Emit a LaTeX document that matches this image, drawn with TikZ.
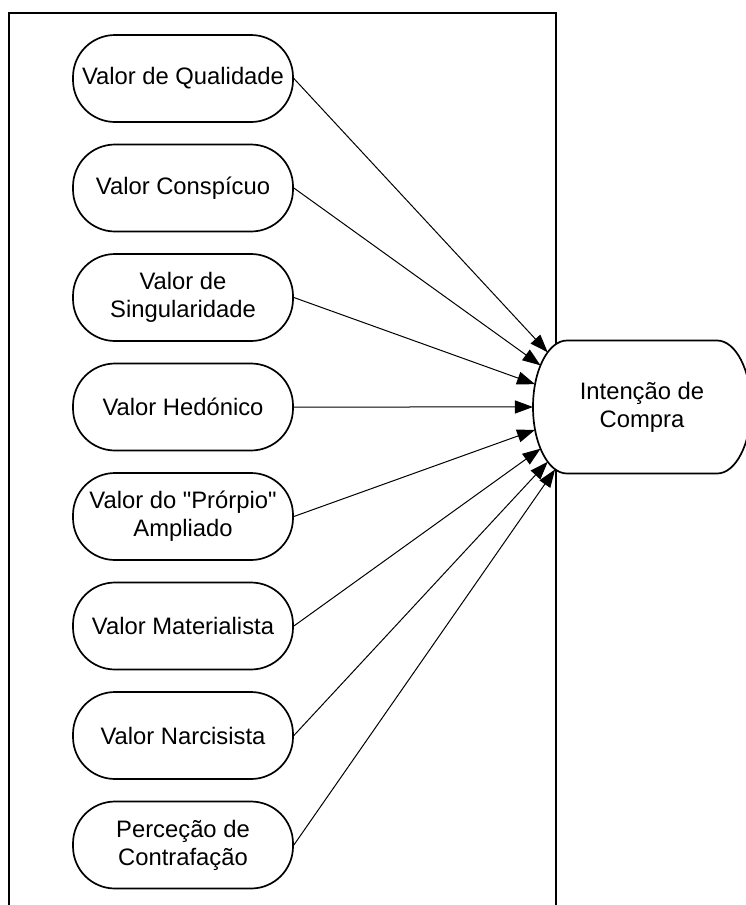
\documentclass[tikz,border=0pt]{standalone}
\usepackage{fontspec}
\setmainfont{Liberation Sans}
\usetikzlibrary{arrows.meta,intersections}

\begin{document}
\begin{tikzpicture}[x=0.5pt,y=-0.5pt,
    valor/.style={draw,line width=0.85pt,rounded corners=21pt,minimum width=110pt,minimum height=43.5pt,inner sep=0pt,align=center,font=\fontsize{11.9}{14}\selectfont},
    seta/.style={line width=0.5pt,-{Triangle[length=9pt,width=6.5pt]}}]
    \useasboundingbox (0,0) rectangle (745,905);
    % moldura
    \draw[line width=0.65pt] (9,915) -- (9,13) -- (556,13) -- (556,915);
    \foreach \txt [count=\i] in {Valor de Qualidade,Valor Conspícuo,Valor de\\Singularidade,Valor Hedónico,Valor do \textquotedbl Prórpio\textquotedbl\\Ampliado,Valor Materialista,Valor Narcisista,Perceção de\\Contrafação}
	\node[valor] (v\i) at (183,{78.5+109.5*(\i-1)}) {\txt};
    % intencao de compra
    \draw[line width=0.85pt,fill=white,name path=icb] (567,340.5) -- (717,340.5) arc[start angle=90,end angle=-90,x radius=17pt,y radius=33.25pt] -- (567,473.5) arc[start angle=270,end angle=90,x radius=17pt,y radius=33.25pt] -- cycle;
    \node[align=center,font=\fontsize{11.9}{14}\selectfont] (ic) at (642,407) {Intenção de\\Compra};
    \coordinate (alvo) at (598.5,407);
    \foreach \i in {1,...,8}{
	\path[name path=ln] (v\i.east) -- (alvo);
	\draw[seta,name intersections={of=ln and icb}] (v\i.east) -- (intersection-1);
    }
\end{tikzpicture}
\end{document}
